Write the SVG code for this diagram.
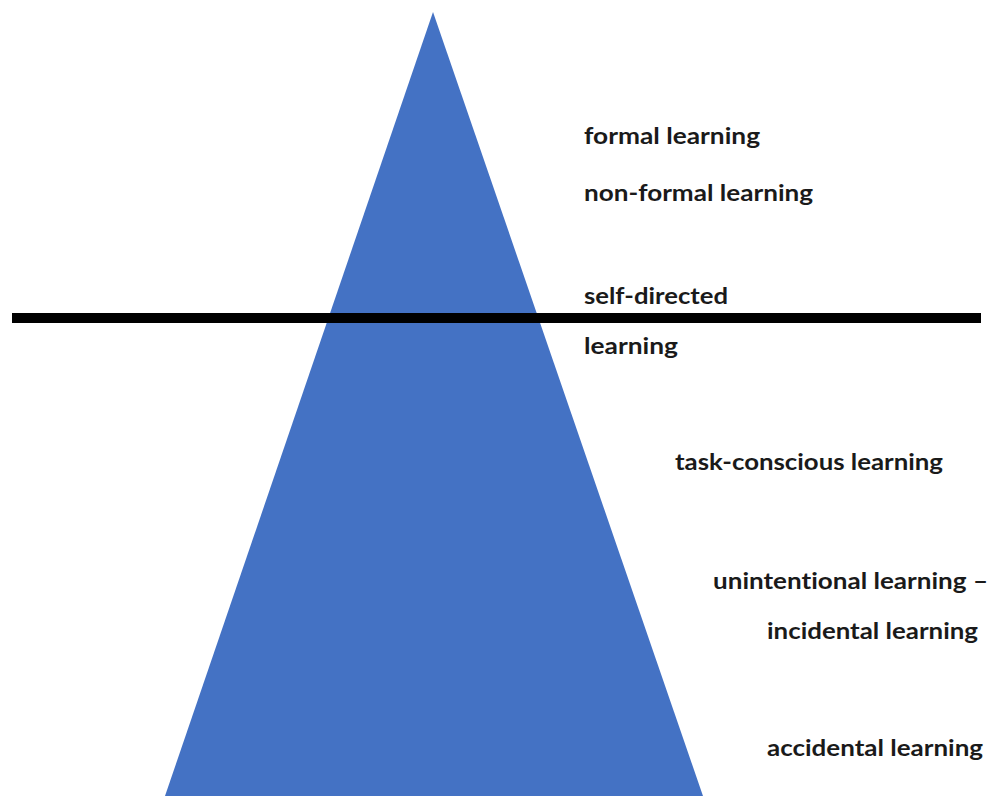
<svg xmlns="http://www.w3.org/2000/svg" width="996" height="796" viewBox="0 0 996 796">
<style>
.lbl{font-family:"Lato","Open Sans","Liberation Sans",sans-serif;font-weight:bold;font-size:22.5px;fill:#1a1a1a;font-variant-ligatures:none;font-feature-settings:"liga" 0,"dlig" 0}
</style>
<rect width="996" height="796" fill="#ffffff"/>
<g id="pyramid">
<polygon points="433,12 703,796 165,796" fill="#4472C4"/>
</g>
<g id="divider">
<line x1="12" y1="318" x2="981" y2="318" stroke="#000000" stroke-width="10"/>
</g>
<g id="labels">
<text class="lbl" x="584" y="144" textLength="176" lengthAdjust="spacingAndGlyphs">formal learning</text>
<text class="lbl" x="584" y="201" textLength="229" lengthAdjust="spacingAndGlyphs">non-formal learning</text>
<text class="lbl" x="584" y="304" textLength="144" lengthAdjust="spacingAndGlyphs">self-directed</text>
<text class="lbl" x="584" y="354" textLength="94" lengthAdjust="spacingAndGlyphs">learning</text>
<text class="lbl" x="675" y="470" textLength="268" lengthAdjust="spacingAndGlyphs">task-conscious learning</text>
<text class="lbl" x="713" y="589" textLength="275" lengthAdjust="spacingAndGlyphs">unintentional learning –</text>
<text class="lbl" x="767" y="639" textLength="211" lengthAdjust="spacingAndGlyphs">incidental learning</text>
<text class="lbl" x="767" y="756" textLength="216" lengthAdjust="spacingAndGlyphs">accidental learning</text>
</g>
</svg>
